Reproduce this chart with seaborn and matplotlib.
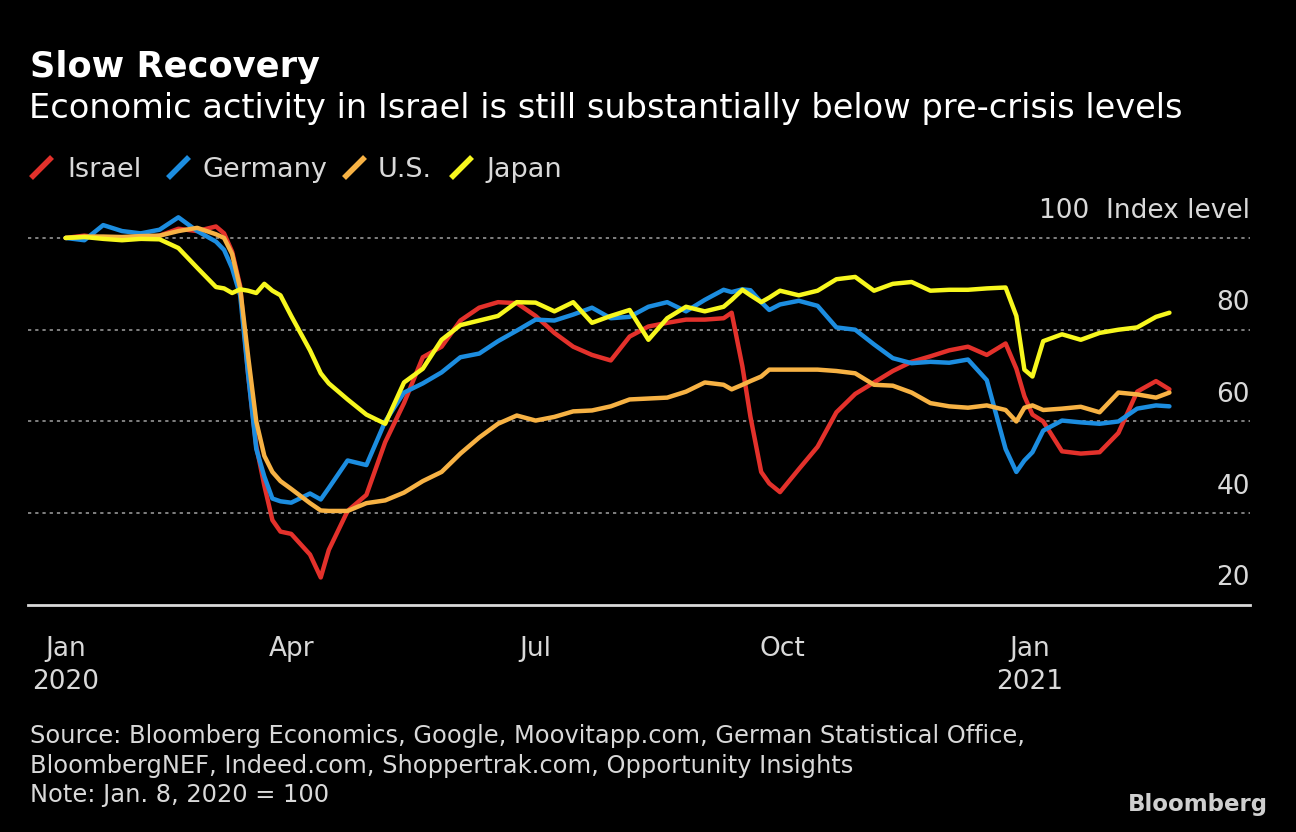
import pandas as pd
import matplotlib
matplotlib.use('Agg')
from matplotlib import pyplot as plt
from matplotlib.lines import Line2D
import seaborn as sns

# values (Jan. 8, 2020 = 100)
dates = ['2020-01-08', '2020-01-15', '2020-01-22', '2020-01-29', '2020-02-05', '2020-02-12',
         '2020-02-19', '2020-02-26', '2020-03-04', '2020-03-07', '2020-03-10', '2020-03-13',
         '2020-03-16', '2020-03-19', '2020-03-22', '2020-03-25', '2020-03-28', '2020-04-01',
         '2020-04-08', '2020-04-12', '2020-04-15', '2020-04-22', '2020-04-29', '2020-05-06',
         '2020-05-13', '2020-05-20', '2020-05-27', '2020-06-03', '2020-06-10', '2020-06-17',
         '2020-06-24', '2020-07-01', '2020-07-08', '2020-07-15', '2020-07-22', '2020-07-29',
         '2020-08-05', '2020-08-12', '2020-08-19', '2020-08-26', '2020-09-02', '2020-09-09',
         '2020-09-12', '2020-09-16', '2020-09-19', '2020-09-23', '2020-09-26', '2020-09-30',
         '2020-10-07', '2020-10-14', '2020-10-21', '2020-10-28', '2020-11-04', '2020-11-11',
         '2020-11-18', '2020-11-25', '2020-12-02', '2020-12-09', '2020-12-16', '2020-12-23',
         '2020-12-27', '2020-12-30', '2021-01-02', '2021-01-06', '2021-01-13', '2021-01-20',
         '2021-01-27', '2021-02-03', '2021-02-10', '2021-02-17', '2021-02-22']

israel = [100, 100.5, 100, 100, 99.8, 100.5, 102, 101.5, 102.5, 101, 97, 89.5,
          70, 54.6, 46, 38.5, 36, 35.5, 31, 26, 32, 40.5, 44, 55.5,
          64, 74, 76.3, 82, 84.8, 86, 85.8, 83, 79.3, 76.3, 74.5, 73.3,
          78.5, 80.7, 81.5, 82.2, 82.2, 82.5, 83.7, 72, 61, 49, 46.5, 44.6,
          49.6, 54.5, 62, 66, 68.5, 71, 73, 74.2, 75.5, 76.3, 74.5, 77,
          71.5, 65.5, 61.5, 60, 53.5, 53, 53.3, 57.5, 66.5, 68.8, 67]

germany = [100, 99.5, 102.8, 101.5, 101, 101.8, 104.5, 101.5, 99.2, 97.4, 93.4, 87.5,
           70, 54, 48, 43.2, 42.6, 42.3, 44.3, 43, 45.5, 51.5, 50.5, 60,
           66.3, 68.3, 70.7, 74, 74.8, 77.5, 79.8, 82.2, 82, 83.3, 84.8, 82.5,
           82.8, 85, 86, 84, 86.5, 88.7, 88.2, 88.8, 88.6, 86, 84.3, 85.5,
           86.3, 85.2, 80.5, 80, 76.8, 73.8, 72.7, 73, 72.8, 73.5, 69, 54,
           49, 51.5, 53.3, 58, 60.2, 59.8, 59.5, 60, 62.8, 63.5, 63.3]

us = [100, 100.3, 100.3, 100.2, 100.4, 100.5, 101.5, 102.2, 100.8, 100, 96.5, 89,
      74, 60, 52.5, 49, 47, 45.3, 42.2, 40.6, 40.5, 40.5, 42.2, 42.8,
      44.5, 47, 49, 53, 56.5, 59.5, 61.3, 60.2, 61, 62.2, 62.4, 63.3,
      64.8, 65, 65.2, 66.5, 68.5, 68, 67, 68, 68.8, 69.8, 71.3, 71.3,
      71.3, 71.3, 71, 70.5, 68, 67.8, 66.3, 64, 63.3, 63, 63.5, 62.5,
      60, 63, 63.5, 62.5, 62.8, 63.2, 62, 66.3, 65.9, 65.2, 66.3]

japan = [100, 100.2, 99.8, 99.5, 99.8, 99.7, 97.8, 93.5, 89.3, 89, 88, 88.8,
         88.5, 88, 90, 88.5, 87.5, 83, 75.5, 70.5, 68.3, 64.8, 61.5, 59.5,
         68.5, 71.5, 77.8, 81, 82, 83, 86, 85.9, 84, 86, 81.5, 83,
         84.3, 77.8, 82.5, 85, 84, 85, 86.5, 88.7, 87.5, 86, 87, 88.5,
         87.5, 88.5, 91, 91.5, 88.5, 90, 90.4, 88.5, 88.7, 88.7, 89, 89.2,
         83, 71.3, 69.8, 77.5, 79, 77.8, 79.3, 80, 80.5, 82.8, 83.7]

countries = ['Israel', 'Germany', 'U.S.', 'Japan']
colors = ['#e3312b', '#1c8de0', '#f7b244', '#f7f71e']
grid_levels = [40, 60, 80]
tick_dates = ['2020-01-08', '2020-04-01', '2020-07-01', '2020-10-01', '2021-01-01']
tick_labels = ['Jan\n2020', 'Apr', 'Jul', 'Oct', 'Jan\n2021']

df = pd.DataFrame({'date': pd.to_datetime(dates), 'Israel': israel, 'Germany': germany,
                   'U.S.': us, 'Japan': japan})
long = df.melt(id_vars='date', var_name='country', value_name='index')

sns.set_style('dark', {'axes.facecolor': 'black', 'figure.facecolor': 'black'})
plt.rcParams['font.family'] = ['DejaVu Sans']

W, H = 1296, 832
fig = plt.figure(figsize=(W / 100, H / 100), dpi=100, facecolor='black')
ax = fig.add_axes([28 / W, 1 - 605 / H, 1222 / W, 390 / H])
ax.set_facecolor('black')

for v in grid_levels + [100]:
    ax.axhline(v, color='#8a8a8a', linestyle=(0, (1.8, 2.2)), linewidth=1.3, zorder=0)

sns.lineplot(data=long, x='date', y='index', hue='country', hue_order=countries,
             palette=colors, linewidth=3.2, ax=ax, legend=False)

ax.set_xlim(pd.Timestamp('2019-12-25'), pd.Timestamp('2021-03-24'))
ax.set_ylim(20, 105)
for s in ['top', 'left', 'right']:
    ax.spines[s].set_visible(False)
ax.spines['bottom'].set_color('#d9d9d9')
ax.spines['bottom'].set_linewidth(2)
ax.set_yticks([])
ax.set_xticks(pd.to_datetime(tick_dates))
ax.set_xticklabels(tick_labels, linespacing=1.35)
ax.tick_params(axis='x', colors='#d9d9d9', length=8, width=1.5, pad=14, labelsize=19)
ax.set_xlabel('')
ax.set_ylabel('')
ax.grid(False)

# right-hand value labels sit above their gridlines
ytf = ax.get_yaxis_transform()
for v in [20] + grid_levels:
    ax.text(1.0, v + 5.8, str(v), transform=ytf, ha='right', va='center',
            color='#d9d9d9', fontsize=19, clip_on=False)
ax.text(1.0, 105.8, '100  Index level', transform=ytf, ha='right', va='center',
        color='#d9d9d9', fontsize=19, clip_on=False)

# titles
fig.text(30 / W, 1 - 77 / H, 'Slow Recovery', color='white', fontsize=25.4,
         fontweight='bold', va='baseline')
fig.text(29 / W, 1 - 118 / H,
         'Economic activity in Israel is still substantially below pre-crisis levels',
         color='white', fontsize=24.2, va='baseline')

# legend with slanted swatches
leg_x = [(31, 67), (168, 203), (344, 378), (451, 486)]
for (mx, tx), name, c in zip(leg_x, countries, colors):
    fig.add_artist(Line2D([mx / W, (mx + 21) / W], [1 - 178 / H, 1 - 157 / H],
                          color=c, linewidth=4, solid_capstyle='butt',
                          transform=fig.transFigure))
    fig.text(tx / W, 1 - 177 / H, name, color='#d9d9d9', fontsize=19.5, va='baseline')

fig.text(30 / W, 1 - 724 / H,
         'Source: Bloomberg Economics, Google, Moovitapp.com, German Statistical Office,\n'
         'BloombergNEF, Indeed.com, Shoppertrak.com, Opportunity Insights\n'
         'Note: Jan. 8, 2020 = 100',
         color='#d9d9d9', fontsize=17.4, va='top', linespacing=1.3)
fig.text(1268 / W, 1 - 805 / H, 'Bloomberg', color='#cfcfcf', fontsize=16.5,
         fontweight='bold', ha='right', va='center')

fig.savefig('out.png', dpi=100, facecolor='black')
